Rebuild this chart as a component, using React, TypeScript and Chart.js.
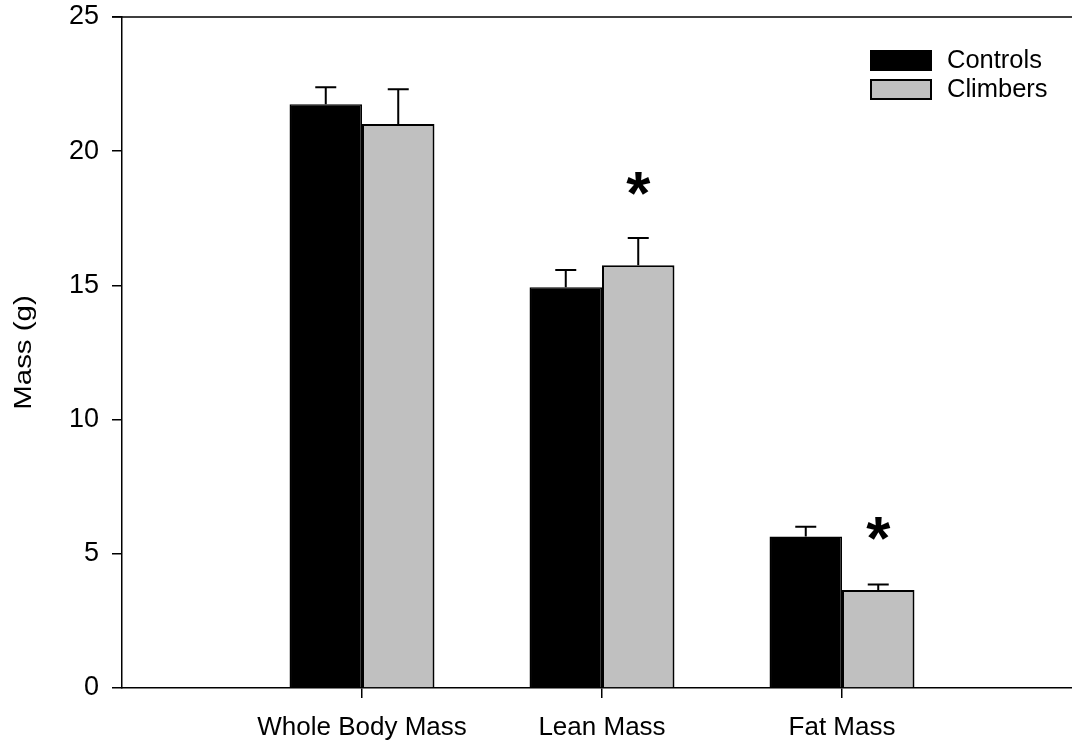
import React, { useEffect, useRef } from 'react';
import { Chart, registerables } from 'chart.js';

Chart.register(...registerables);

// ---- data ----
const categories: string[] = ['', 'Whole Body Mass', 'Lean Mass', 'Fat Mass', ''];
const controls: (number | null)[] = [null, 21.75, 14.93, 5.64, null];
const controlsErr: (number | null)[] = [null, 0.63, 0.64, 0.37, null];
const climbers: (number | null)[] = [null, 21.01, 15.75, 3.65, null];
const climbersErr: (number | null)[] = [null, 1.3, 1.02, 0.21, null];
// y value where a significance asterisk is centred (above Climbers bar)
const significance: (number | null)[] = [null, null, 18.8, 5.95, null];
const yTicks: number[] = [0, 5, 10, 15, 20, 25];
const seriesNames: string[] = ['Controls', 'Climbers'];
const yTitle = 'Mass (g)';

const FONT = "'Liberation Sans', Arial, Helvetica, sans-serif";

const errorBarPlugin = {
  id: 'errorBars',
  afterDatasetsDraw(chart: any) {
    const ctx = chart.ctx;
    const yScale = chart.scales.y;
    const errs = [controlsErr, climbersErr];
    const vals = [controls, climbers];
    ctx.save();
    ctx.strokeStyle = '#000';
    ctx.lineWidth = 2;
    chart.data.datasets.forEach((_: any, di: number) => {
      const meta = chart.getDatasetMeta(di);
      meta.data.forEach((bar: any, j: number) => {
        const v = vals[di][j];
        const e = errs[di][j];
        if (v == null || e == null) return;
        const yTop = yScale.getPixelForValue(v + e);
        const yBar = yScale.getPixelForValue(v);
        ctx.beginPath();
        ctx.moveTo(bar.x, yBar);
        ctx.lineTo(bar.x, yTop);
        ctx.moveTo(bar.x - 10.5, yTop);
        ctx.lineTo(bar.x + 10.5, yTop);
        ctx.stroke();
      });
    });
    // significance asterisks
    const meta1 = chart.getDatasetMeta(1);
    ctx.fillStyle = '#000';
    ctx.font = `bold 62px ${FONT}`;
    ctx.textAlign = 'center';
    ctx.textBaseline = 'alphabetic';
    const m = ctx.measureText('*');
    const off = (m.actualBoundingBoxAscent - m.actualBoundingBoxDescent) / 2;
    significance.forEach((s, j) => {
      if (s == null) return;
      const x = meta1.data[j].x;
      const y = yScale.getPixelForValue(s);
      ctx.fillText('*', x, y + off);
    });
    ctx.restore();
  },
  afterDraw(chart: any) {
    const ctx = chart.ctx;
    const ca = chart.chartArea;
    ctx.save();
    // frame top & right
    ctx.strokeStyle = '#000';
    ctx.lineWidth = 1.5;
    ctx.beginPath();
    ctx.moveTo(ca.left - 10, ca.top);
    ctx.lineTo(ca.right, ca.top);
    ctx.lineTo(ca.right, ca.bottom);
    ctx.stroke();
    // y-axis title (slightly stretched along its length, as in the reference)
    ctx.save();
    ctx.translate(25, (ca.top + ca.bottom) / 2);
    ctx.rotate(-Math.PI / 2);
    ctx.scale(1.28, 1);
    ctx.fillStyle = '#000';
    ctx.font = `23px ${FONT}`;
    ctx.textAlign = 'center';
    ctx.textBaseline = 'middle';
    ctx.fillText(yTitle, 0, 0);
    ctx.restore();
    // legend
    const lx = ca.left + 748;
    const ly = ca.top + 33;
    const colors = ['#000000', '#c0c0c0'];
    ctx.font = `25.5px ${FONT}`;
    ctx.textBaseline = 'middle';
    ctx.textAlign = 'left';
    seriesNames.forEach((name, i) => {
      const y = ly + i * 29;
      ctx.fillStyle = colors[i];
      ctx.fillRect(lx, y, 62, 21);
      ctx.lineWidth = 2;
      ctx.strokeStyle = '#000';
      ctx.strokeRect(lx + 1, y + 1, 60, 19);
      ctx.fillStyle = '#000';
      ctx.fillText(name, lx + 77, y + 11);
    });
    ctx.restore();
  },
};

export default function App() {
  const ref = useRef<HTMLCanvasElement | null>(null);

  useEffect(() => {
    if (!ref.current) return;
    const chart = new Chart(ref.current, {
      type: 'bar',
      data: {
        labels: categories,
        datasets: [
          {
            label: seriesNames[0],
            data: controls,
            backgroundColor: '#000000',
            borderColor: '#000000',
            borderWidth: 1.5,
            categoryPercentage: 0.604,
            barPercentage: 1,
          },
          {
            label: seriesNames[1],
            data: climbers,
            backgroundColor: '#c0c0c0',
            borderColor: '#000000',
            borderWidth: 2,
            categoryPercentage: 0.604,
            barPercentage: 1,
          },
        ],
      },
      options: {
        responsive: false,
        animation: false,
        devicePixelRatio: 1,
        layout: { padding: { top: 17, right: 3, left: 0, bottom: 0 } },
        plugins: {
          legend: { display: false },
          tooltip: { enabled: false },
        },
        scales: {
          x: {
            offset: false,
            ticks: {
              font: { size: 26, family: FONT },
              color: '#000',
              padding: 14,
              autoSkip: false,
              maxRotation: 0,
              minRotation: 0,
            },
            grid: {
              offset: false,
              drawOnChartArea: false,
              drawTicks: true,
              tickLength: 10,
              color: '#000',
              lineWidth: 1.5,
              tickColor: (c: any) => (categories[c.index] ? '#000' : 'rgba(0,0,0,0)'),
            },
            border: { display: true, color: '#000', width: 1.5 },
            afterFit: (s: any) => {
              s.height = 57;
              s.paddingLeft = 0;
              s.paddingRight = 0;
            },
          },
          y: {
            min: 0,
            max: 25,
            afterBuildTicks: (s: any) => {
              s.ticks = yTicks.map((v) => ({ value: v }));
            },
            ticks: {
              font: { size: 27, family: FONT },
              color: '#000',
              padding: 13,
            },
            grid: {
              drawOnChartArea: false,
              drawTicks: true,
              tickLength: 10,
              color: '#000',
              lineWidth: 1.5,
            },
            border: { display: true, color: '#000', width: 1.5 },
            title: { display: false },
            afterFit: (s: any) => {
              s.width = 122;
              s.paddingTop = 0;
              s.paddingBottom = 0;
            },
          },
        },
      },
      plugins: [errorBarPlugin],
    });
    return () => chart.destroy();
  }, []);

  return (
    <div
      style={{
        position: 'fixed',
        left: 0,
        top: 0,
        width: 1072,
        height: 745,
        overflow: 'hidden',
        background: '#fff',
      }}
    >
      <canvas ref={ref} width={1085} height={745} style={{ display: 'block' }} />
    </div>
  );
}
